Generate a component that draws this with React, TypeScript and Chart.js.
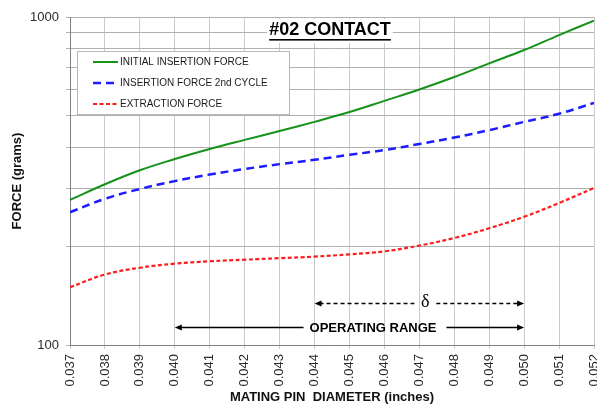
import React, { useEffect, useRef } from 'react';
import { Chart, registerables } from 'chart.js';

Chart.register(...registerables);

const FONT = '"Liberation Sans", Arial, Helvetica, sans-serif';

const xValues = [0.037, 0.038, 0.039, 0.04, 0.041, 0.042, 0.043, 0.044, 0.045, 0.046, 0.047, 0.048, 0.049, 0.05, 0.051, 0.052];
const xTickLabels = ['0.037', '0.038', '0.039', '0.040', '0.041', '0.042', '0.043', '0.044', '0.045', '0.046', '0.047', '0.048', '0.049', '0.050', '0.051', '0.052'];
const yTickValues = [100, 200, 300, 400, 500, 600, 700, 800, 900, 1000];
const yTickShown = [100, 1000];

const initialInsertion = [277, 309, 341, 369, 396, 422, 449, 479, 513, 555, 601, 656, 722, 793, 881, 975];
const secondCycle = [254, 279, 299, 316, 331, 344, 356, 367, 380, 393, 410, 429, 452, 479, 507, 547];
const extraction = [150, 164, 172, 177, 180, 182, 184, 186, 189, 193, 201, 212, 227, 246, 271, 301];

const seriesNames = ['INITIAL INSERTION FORCE', 'INSERTION FORCE 2nd CYCLE', 'EXTRACTION FORCE'];

const chartTitle = '#02 CONTACT';
const xTitle = 'MATING PIN  DIAMETER (inches)';
const yTitle = 'FORCE (grams)';

const operatingRange = [0.04, 0.05];
const operatingLabel = 'OPERATING RANGE';
const operatingLevel = 113.5;
const deltaRange = [0.044, 0.05];
const deltaLabel = 'δ';
const deltaLevel = 134;

const toPoints = (arr: number[]) => xValues.map((x, i) => ({ x, y: arr[i] }));

function arrowHead(ctx: CanvasRenderingContext2D, x: number, y: number, dir: number) {
  ctx.beginPath();
  ctx.moveTo(x, y);
  ctx.lineTo(x - dir * 7, y - 3);
  ctx.lineTo(x - dir * 7, y + 3);
  ctx.closePath();
  ctx.fill();
}

const overlayPlugin = {
  id: 'overlay',
  afterDatasetsDraw(chart: any) {
    const ctx: CanvasRenderingContext2D = chart.ctx;
    const area = chart.chartArea;
    const xs = chart.scales.x;
    const ys = chart.scales.y;
    ctx.save();

    // Title
    ctx.font = `bold 18px ${FONT}`;
    const tw = ctx.measureText(chartTitle).width;
    const tcx = (area.left + area.right) / 2 - 2;
    const tcy = area.top + 13;
    ctx.fillStyle = '#ffffff';
    ctx.fillRect(tcx - tw / 2 - 2, area.top + 2, tw + 4, 24);
    ctx.fillStyle = '#000000';
    ctx.textAlign = 'center';
    ctx.textBaseline = 'middle';
    ctx.fillText(chartTitle, tcx, tcy);
    ctx.fillRect(tcx - tw / 2, tcy + 9, tw, 1.6);

    // Legend
    const lx = area.left + 7;
    const ly = area.top + 34;
    const lw = 212;
    const lh = 63;
    ctx.fillStyle = '#ffffff';
    ctx.fillRect(lx, ly, lw, lh);
    ctx.strokeStyle = '#b8b8b8';
    ctx.lineWidth = 1;
    ctx.setLineDash([]);
    ctx.strokeRect(lx + 0.5, ly + 0.5, lw, lh);
    const dsets = chart.data.datasets;
    ctx.font = `10px ${FONT}`;
    ctx.textAlign = 'left';
    ctx.textBaseline = 'middle';
    for (let i = 0; i < dsets.length; i++) {
      const yy = ly + 11 + i * 21;
      ctx.strokeStyle = dsets[i].borderColor;
      ctx.lineWidth = dsets[i].borderWidth;
      ctx.setLineDash(dsets[i].borderDash || []);
      ctx.beginPath();
      ctx.moveTo(lx + 16, yy);
      ctx.lineTo(lx + 41, yy);
      ctx.stroke();
      ctx.setLineDash([]);
      ctx.fillStyle = '#1a1a1a';
      ctx.fillText(dsets[i].label, lx + 43, yy + 0.5);
    }

    // Delta arrow (dashed)
    ctx.strokeStyle = '#000000';
    ctx.fillStyle = '#000000';
    const dx1 = xs.getPixelForValue(deltaRange[0]);
    const dx2 = xs.getPixelForValue(deltaRange[1]);
    const dy = Math.round(ys.getPixelForValue(deltaLevel)) + 0.5;
    const dcx = (dx1 + dx2) / 2 + 6;
    ctx.lineWidth = 1.5;
    ctx.setLineDash([4, 3]);
    ctx.beginPath();
    ctx.moveTo(dx1 + 5, dy);
    ctx.lineTo(dcx - 11, dy);
    ctx.moveTo(dcx + 11, dy);
    ctx.lineTo(dx2 - 5, dy);
    ctx.stroke();
    ctx.setLineDash([]);
    arrowHead(ctx, dx1, dy, -1);
    arrowHead(ctx, dx2, dy, 1);
    ctx.font = `18px "Liberation Serif", "Times New Roman", serif`;
    ctx.textAlign = 'center';
    ctx.textBaseline = 'middle';
    ctx.fillText(deltaLabel, dcx, dy - 1);

    // Operating range arrow (solid)
    const ox1 = xs.getPixelForValue(operatingRange[0]);
    const ox2 = xs.getPixelForValue(operatingRange[1]);
    const oy = Math.round(ys.getPixelForValue(operatingLevel)) + 0.5;
    ctx.font = `bold 13px ${FONT}`;
    const ow = ctx.measureText(operatingLabel).width;
    const ocx = 373;
    ctx.lineWidth = 1.5;
    ctx.beginPath();
    ctx.moveTo(ox1 + 5, oy);
    ctx.lineTo(ocx - ow / 2 - 6, oy);
    ctx.moveTo(ocx + ow / 2 + 10, oy);
    ctx.lineTo(ox2 - 5, oy);
    ctx.stroke();
    arrowHead(ctx, ox1, oy, -1);
    arrowHead(ctx, ox2, oy, 1);
    ctx.fillText(operatingLabel, ocx, oy + 0.5);

    ctx.restore();
  },
};

export default function App() {
  const ref = useRef<HTMLCanvasElement | null>(null);

  useEffect(() => {
    if (!ref.current) return;
    const chart = new Chart(ref.current, {
      type: 'line',
      data: {
        datasets: [
          {
            label: seriesNames[0],
            data: toPoints(initialInsertion),
            borderColor: '#15921a',
            borderWidth: 2,
            pointRadius: 0,
            tension: 0.4,
            fill: false,
          },
          {
            label: seriesNames[1],
            data: toPoints(secondCycle),
            borderColor: '#1c1cff',
            borderWidth: 2.5,
            borderDash: [8, 5],
            pointRadius: 0,
            tension: 0.4,
            fill: false,
          },
          {
            label: seriesNames[2],
            data: toPoints(extraction),
            borderColor: '#ff1c1c',
            borderWidth: 2.2,
            borderDash: [4, 2.5],
            pointRadius: 0,
            tension: 0.4,
            fill: false,
          },
        ],
      },
      options: {
        responsive: false,
        animation: false,
        events: [],
        layout: { padding: { top: 17, right: 3, bottom: 0, left: 0 } },
        plugins: {
          legend: { display: false },
          tooltip: { enabled: false },
          title: { display: false },
        },
        scales: {
          x: {
            type: 'linear',
            min: xValues[0],
            max: xValues[xValues.length - 1],
            afterBuildTicks: (s: any) => {
              s.ticks = xValues.map((v) => ({ value: v }));
            },
            afterFit: (s: any) => {
              s.height = 60;
              s.paddingLeft = 0;
              s.paddingRight = 0;
            },
            ticks: {
              autoSkip: false,
              minRotation: 90,
              maxRotation: 90,
              padding: 5,
              color: '#2a2a2a',
              font: { family: FONT, size: 13 },
              callback: (_v: any, i: number) => xTickLabels[i],
            },
            grid: { color: '#cbcbcb', lineWidth: 1, tickLength: 4 },
            border: { color: '#808080', width: 1 },
            title: {
              display: true,
              text: xTitle,
              color: '#111111',
              font: { family: FONT, size: 13, weight: 'bold' },
              padding: { top: 0, bottom: 0 },
            },
          },
          y: {
            type: 'logarithmic',
            min: 100,
            max: 1000,
            afterBuildTicks: (s: any) => {
              s.ticks = yTickValues.map((v) => ({ value: v }));
            },
            afterFit: (s: any) => {
              s.width = 70;
              s.paddingTop = 0;
              s.paddingBottom = 0;
            },
            ticks: {
              autoSkip: false,
              padding: 7,
              color: '#2a2a2a',
              font: { family: FONT, size: 13 },
              callback: (v: any) => (yTickShown.includes(Number(v)) ? String(v) : ''),
            },
            grid: { color: '#b0b0b0', lineWidth: 1, tickLength: 4 },
            border: { color: '#808080', width: 1 },
            title: {
              display: true,
              text: yTitle,
              color: '#111111',
              font: { family: FONT, size: 13, weight: 'bold' },
              padding: { top: 10, bottom: 0 },
            },
          },
        },
      },
      plugins: [overlayPlugin],
    } as any);
    return () => chart.destroy();
  }, []);

  return (
    <div style={{ position: 'absolute', left: 0, top: 0, width: 597, height: 405, background: '#ffffff' }}>
      <canvas ref={ref} width={597} height={405} style={{ display: 'block' }} />
    </div>
  );
}
